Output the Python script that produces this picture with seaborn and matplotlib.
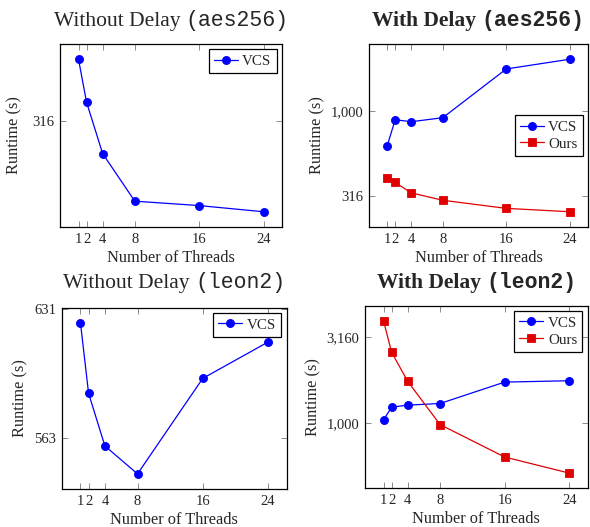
import numpy as np
import pandas as pd
import matplotlib
matplotlib.use("Agg")
import matplotlib.pyplot as plt
import seaborn as sns
from matplotlib.offsetbox import TextArea, HPacker, AnchoredOffsetbox
from matplotlib.ticker import FixedLocator, FixedFormatter, NullLocator

# ---------------- data ----------------
threads = [1, 2, 4, 8, 16, 24]

aes_nodelay_vcs = [558, 375, 233, 150, 144, 136]
aes_delay_vcs = [625, 892, 868, 917, 1788, 2042]
aes_delay_ours = [403, 378, 328, 296, 265, 253]
leon_nodelay_vcs = [623.2, 585.6, 559.1, 545.5, 593.4, 612.7]
leon_delay_vcs = [1046, 1239, 1273, 1301, 1731, 1763]
leon_delay_ours = [3917, 2576, 1747, 982, 637, 514]

xtick_labels = ["1", "2", "4", "8", "16", "24"]
aes_nodelay_yticks = [316]
aes_nodelay_ylabels = ["316"]
aes_delay_yticks = [316, 1000]
aes_delay_ylabels = ["316", "1,000"]
leon_nodelay_yticks = [563, 631]
leon_nodelay_ylabels = ["563", "631"]
leon_delay_yticks = [1000, 3160]
leon_delay_ylabels = ["1,000", "3,160"]

# ---------------- style ----------------
sns.set_style("ticks")
plt.rcParams["font.family"] = ["Liberation Serif", "DejaVu Serif"]
plt.rcParams["mathtext.fontset"] = "stix"

W, H = 590, 527
fig = plt.figure(figsize=(W / 100, H / 100), dpi=100)

def px_axes(left, top, right, bottom):
    return fig.add_axes([left / W, 1 - bottom / H, (right - left) / W, (bottom - top) / H])

ax1 = px_axes(60, 44, 282, 227)
ax2 = px_axes(369, 44, 588, 227)
ax3 = px_axes(61.7, 307.7, 286.7, 489)
ax4 = px_axes(365, 305.7, 587.7, 488.3)

COLORS = {"VCS": "#0000FF", "Ours": "#E00000"}
MARKERS = {"VCS": "o", "Ours": "s"}
MSIZE = {"o": 5.8, "s": 5.2}

def make_df(series):
    rows = []
    for name, vals in series.items():
        for t, v in zip(threads, vals):
            rows.append({"Threads": t, "Runtime": v, "Method": name})
    return pd.DataFrame(rows)

def style_line(ln):
    ln.set_markeredgecolor(ln.get_color())
    m = ln.get_marker()
    if m in MSIZE:
        ln.set_markersize(MSIZE[m])

def draw(ax, series, yticks, ylabels, title_main, title_code, bold, legend_loc, title_off, ylpad):
    df = make_df(series)
    names = list(series.keys())
    ax.set_yscale("log")
    sns.lineplot(data=df, x="Threads", y="Runtime", hue="Method", style="Method",
                 hue_order=names, style_order=names,
                 palette={n: COLORS[n] for n in names},
                 markers={n: MARKERS[n] for n in names}, dashes=False,
                 linewidth=0.9, markersize=5.5, markeredgewidth=0.6,
                 ax=ax, legend=True)
    for ln in ax.lines:
        style_line(ln)
    ax.margins(x=0.1, y=0.1)
    ax.set_xticks(threads)
    ax.set_xticklabels(xtick_labels)
    ax.yaxis.set_major_locator(FixedLocator(yticks))
    ax.yaxis.set_major_formatter(FixedFormatter(ylabels))
    ax.yaxis.set_minor_locator(NullLocator())
    ax.xaxis.set_minor_locator(NullLocator())
    ax.tick_params(axis="both", which="major", direction="in", length=4, width=0.6,
                   color="#777777", labelsize=10.5, top=True, right=True, pad=4)
    for s in ax.spines.values():
        s.set_visible(True)
        s.set_linewidth(0.9)
        s.set_color("black")
    ax.set_xlabel("Number of Threads", fontsize=11.8, labelpad=3)
    ax.set_ylabel("Runtime (s)", fontsize=11.8, labelpad=ylpad)
    handles, labels = ax.get_legend_handles_labels()
    leg = ax.legend(handles, labels, loc=legend_loc, fontsize=10.8, fancybox=False,
                    edgecolor="black", framealpha=1, handlelength=1.6,
                    handletextpad=0.3, labelspacing=0.22, borderpad=0.35,
                    borderaxespad=0.35)
    leg.get_frame().set_linewidth(0.9)
    for h in leg.legend_handles:
        try:
            style_line(h)
        except Exception:
            pass
    weight = "bold" if bold else "normal"
    ta1 = TextArea(title_main + " ", textprops=dict(family="Liberation Serif", size=15.5, weight=weight))
    ta2 = TextArea(title_code, textprops=dict(family="Liberation Mono", size=15.5, weight=weight))
    box = HPacker(children=[ta1, ta2], align="baseline", pad=0, sep=0)
    anch = AnchoredOffsetbox(loc="lower center", child=box, pad=0, frameon=False,
                             bbox_to_anchor=(0.5, title_off), bbox_transform=ax.transAxes,
                             borderpad=0)
    ax.add_artist(anch)

draw(ax1, {"VCS": aes_nodelay_vcs}, aes_nodelay_yticks, aes_nodelay_ylabels,
     "Without Delay", "(aes256)", False, "upper right", 1.072, 7)
draw(ax2, {"VCS": aes_delay_vcs, "Ours": aes_delay_ours}, aes_delay_yticks, aes_delay_ylabels,
     "With Delay", "(aes256)", True, "center right", 1.072, 4)
draw(ax3, {"VCS": leon_nodelay_vcs}, leon_nodelay_yticks, leon_nodelay_ylabels,
     "Without Delay", "(leon2)", False, "upper right", 1.083, 4)
draw(ax4, {"VCS": leon_delay_vcs, "Ours": leon_delay_ours}, leon_delay_yticks, leon_delay_ylabels,
     "With Delay", "(leon2)", True, "upper right", 1.07, 4)

fig.savefig("out.png", dpi=100)
